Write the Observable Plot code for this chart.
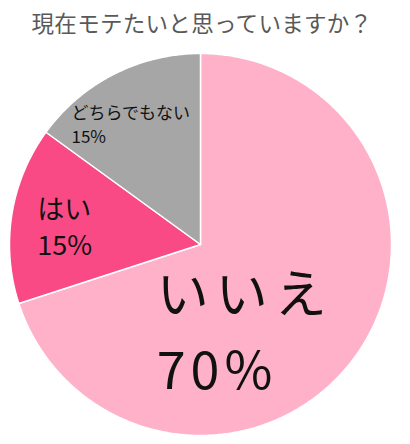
<!DOCTYPE html>
<html><head><meta charset="utf-8">
<script src="https://cdn.jsdelivr.net/npm/d3@7"></script>
<script src="https://cdn.jsdelivr.net/npm/@observablehq/plot@0.6"></script>
<style>
body{margin:0;background:#fff;font-family:"Noto Sans CJK JP",sans-serif;}
#title{height:44px;width:410px;text-align:center;font-size:22.5px;color:#595959;line-height:44px;padding-right:6px;box-sizing:border-box;letter-spacing:0.3px;}
</style></head>
<body>
<div id="title"></div>
<div id="chart"></div>
<script>
const title = "現在モテたいと思っていますか？";
const categories = ["いいえ", "はい", "どちらでもない"];
const values = [70, 15, 15];
const colors = ["#FFB1CA", "#F94A86", "#A6A6A6"];

document.getElementById("title").textContent = title;

const total = d3.sum(values);
let acc = 0;
const slices = categories.map((c, i) => {
  const a0 = acc / total * 2 * Math.PI;
  acc += values[i];
  const a1 = acc / total * 2 * Math.PI;
  return {cat: c, value: values[i], a0, a1, mid: (a0 + a1) / 2};
});
const pts = [];
for (const s of slices) {
  pts.push({cat: s.cat, x: 0, y: 0});
  const n = Math.max(2, Math.ceil((s.a1 - s.a0) / (Math.PI / 360)));
  for (let k = 0; k <= n; k++) {
    const a = s.a0 + (s.a1 - s.a0) * k / n;
    pts.push({cat: s.cat, x: Math.sin(a), y: Math.cos(a)});
  }
  pts.push({cat: s.cat, x: 0, y: 0});
}
// label styles: radius fraction and pixel offsets (one text per line)
const labelStyle = [
  {r: 0.5, dx: -121, dy1: -4, dy2: 72, size: 52, ls1: 7, ls2: 5},
  {r: 0.6, dx: -50, dy1: -16, dy2: 20, size: 27, ls1: 0, ls2: 0},
  {r: 0.6, dx: -77, dy1: -29, dy2: -5, size: 17, ls1: 0, ls2: 0}
];
const labelLines = [];
slices.forEach((s, i) => {
  const st = labelStyle[i];
  const x = st.r * Math.sin(s.mid), y = st.r * Math.cos(s.mid);
  labelLines.push({text: s.cat, x, y, dx: st.dx, dy: st.dy1, size: st.size, ls: st.ls1});
  labelLines.push({text: s.value + "%", x, y, dx: st.dx, dy: st.dy2, size: st.size, ls: st.ls2});
});

const chart = Plot.plot({
  width: 410, height: 400,
  marginLeft: 9, marginRight: 19, marginTop: 9, marginBottom: 9,
  x: {domain: [-1, 1], axis: null},
  y: {domain: [-1, 1], axis: null},
  color: {domain: categories, range: colors},
  style: {fontFamily: "'Noto Sans CJK JP', sans-serif", background: "white"},
  marks: [
    Plot.line(pts, {x: "x", y: "y", z: "cat", fill: "cat", stroke: "white", strokeWidth: 1.5, curve: "linear-closed"}),
    ...labelLines.map(l => Plot.text([l], {
      x: "x", y: "y", text: "text", textAnchor: "start",
      dx: l.dx, dy: l.dy, fontSize: l.size, fill: "#111",
      render(index, scales, values, dims, ctx, next) {
        const g = next(index, scales, values, dims, ctx);
        g.setAttribute("letter-spacing", l.ls + "px");
        return g;
      }
    }))
  ]
});
document.getElementById("chart").appendChild(chart);
</script>
</body></html>
